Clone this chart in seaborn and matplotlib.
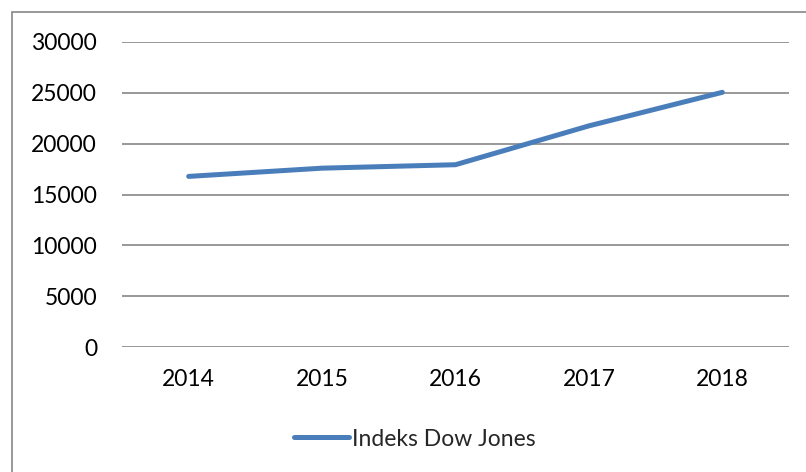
import matplotlib
matplotlib.use("Agg")
import matplotlib.pyplot as plt
import seaborn as sns
import pandas as pd
from matplotlib.patches import Rectangle
from matplotlib.lines import Line2D

years = ["2014", "2015", "2016", "2017", "2018"]
values = [16780, 17590, 17930, 21750, 25050]
series_name = "Indeks Dow Jones"
yticks = [0, 5000, 10000, 15000, 20000, 25000, 30000]

df = pd.DataFrame({"Tahun": years, "Nilai": values, "Seri": series_name})

sns.set_theme(style="white")
plt.rcParams["font.family"] = ["Lato", "DejaVu Sans"]

W, H = 806, 472
fig = plt.figure(figsize=(W / 100, H / 100), dpi=100)
ax = fig.add_axes([122 / W, 1 - 347 / H, (789 - 122) / W, (347 - 42) / H])

sns.lineplot(data=df, x="Tahun", y="Nilai", hue="Seri", palette=["#4a7ebb"],
             linewidth=3.6, ax=ax, sort=False, legend=False)
for l in ax.lines:
    l.set_solid_capstyle("round")

ax.set_xlim(-0.5, len(years) - 0.5)
ax.set_ylim(0, 30000)
ax.set_yticks(yticks)
ax.set_yticklabels([str(v) for v in yticks])
ax.set_xticks(range(len(years)))
ax.set_xticklabels(years)
ax.set_xlabel("")
ax.set_ylabel("")
for s in ax.spines.values():
    s.set_visible(False)
ax.yaxis.grid(True, color="#868686", linewidth=1.2)
ax.xaxis.grid(False)
ax.set_axisbelow(True)
ax.tick_params(axis="y", length=0, pad=18, labelsize=16.5, labelcolor="black")
ax.tick_params(axis="x", length=0, pad=16, labelsize=16.5, labelcolor="black")

# legend
handle = Line2D([0], [0], color="#4a7ebb", linewidth=3.6, solid_capstyle="round")
fig.legend([handle], [series_name], loc="center left",
           bbox_to_anchor=(283 / W, 1 - 439 / H), frameon=False,
           fontsize=16.5, handlelength=2.4, handletextpad=0.1, borderpad=0)

# chart border (only left/top visible)
fig.patches.append(Rectangle((12 / W, -0.1), 1.2, 1 - 12 / H + 0.1,
                             transform=fig.transFigure, fill=False,
                             edgecolor="#868686", linewidth=1.2))

fig.savefig("out.png", dpi=100)
